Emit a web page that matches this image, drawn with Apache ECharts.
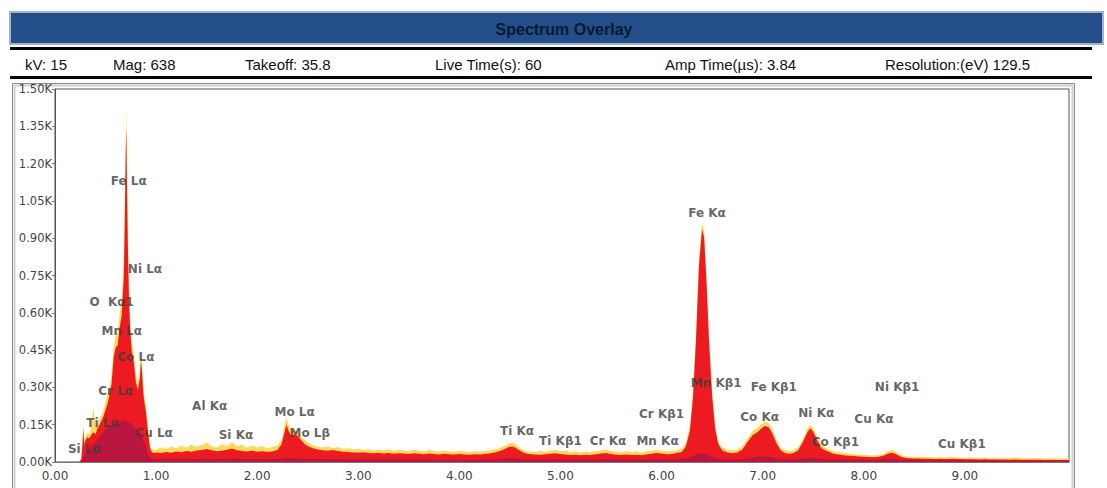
<!DOCTYPE html>
<html>
<head>
<meta charset="utf-8">
<title>Spectrum Overlay</title>
<script src="https://cdn.jsdelivr.net/npm/echarts@6/dist/echarts.min.js"></script>
<style>
  html, body { margin: 0; padding: 0; background: #fff; }
  #chart { width: 1107px; height: 488px; }
</style>
</head>
<body>
<div id="chart"></div>
<script>
// energy axis (keV), shared by the three spectra
const energy = [
  0, 0.24,
  0.26, 0.27, 0.28, 0.29, 0.30, 0.32, 0.34, 0.36, 0.38, 0.40, 0.42, 0.44, 0.46, 0.48, 0.50, 0.52, 0.54, 0.56, 0.58, 0.60,
  0.62, 0.64, 0.66, 0.68, 0.69, 0.70, 0.705, 0.71, 0.72, 0.73, 0.74, 0.76, 0.78, 0.80, 0.82, 0.84, 0.85, 0.86, 0.87, 0.88,
  0.90, 0.92, 0.94, 0.96, 0.98,
  1.00, 1.05, 1.10, 1.15, 1.20, 1.25, 1.30, 1.35, 1.40, 1.45, 1.50, 1.55, 1.60, 1.65, 1.70, 1.75, 1.80, 1.85, 1.90, 1.95,
  2.00, 2.05, 2.10, 2.15, 2.20,
  2.24, 2.27, 2.29, 2.31, 2.34, 2.37, 2.40, 2.44, 2.48, 2.52, 2.56, 2.60,
  2.65, 2.70, 2.75, 2.80, 2.85, 2.90, 2.95, 3.00, 3.05, 3.10, 3.15, 3.20, 3.25, 3.30, 3.35, 3.40, 3.45, 3.50, 3.55, 3.60,
  3.65, 3.70, 3.75, 3.80, 3.85, 3.90, 3.95, 4.00, 4.05, 4.10, 4.15, 4.20, 4.25, 4.30, 4.35,
  4.40, 4.45, 4.49, 4.52, 4.55, 4.59, 4.63, 4.68,
  4.75, 4.80, 4.85, 4.90, 4.95, 5.00, 5.05, 5.10, 5.15, 5.20, 5.25, 5.30, 5.35, 5.40, 5.45, 5.50, 5.55, 5.60, 5.65, 5.70,
  5.75, 5.80, 5.85, 5.90, 5.95, 6.00, 6.05, 6.10, 6.15,
  6.20, 6.24, 6.28, 6.31, 6.34, 6.37, 6.40, 6.42, 6.44, 6.47, 6.50, 6.53, 6.56, 6.60, 6.65, 6.70, 6.75, 6.80, 6.85, 6.90,
  6.94, 6.98, 7.02, 7.06, 7.10, 7.14, 7.18, 7.22, 7.26, 7.30, 7.35, 7.40, 7.44, 7.47, 7.50, 7.54, 7.58, 7.62, 7.66, 7.70,
  7.75, 7.80, 7.85, 7.90, 7.95, 8.00, 8.05, 8.10, 8.15, 8.20, 8.24, 8.28, 8.32, 8.36,
  8.40, 8.45, 8.50, 8.55, 8.60, 8.65, 8.70, 8.75, 8.80, 8.85, 8.90, 8.95, 9.00, 9.05, 9.10, 9.15, 9.20, 9.25, 9.30, 9.35,
  9.40, 9.45, 9.50, 9.55, 9.60, 9.65, 9.70, 9.75, 9.80, 9.85, 9.90, 9.95, 10.00, 10.03
];

// main spectrum (red)
const redCounts = [
  0, 0,
  10, 60, 130, 70, 85, 100, 95, 110, 120, 112, 135, 150, 165, 185, 210, 235, 270, 315, 420, 460,
  470, 540, 590, 740, 950, 1250, 1340, 1180, 880, 690, 560, 440, 400, 320, 290, 340, 405, 370, 300, 250,
  200, 120, 55, 38, 36,
  38, 36, 40, 37, 42, 39, 44, 41, 46, 48, 52, 47, 43, 45, 49, 54, 47, 44, 42, 45,
  41, 43, 40, 42, 48,
  70, 120, 150, 125, 105, 112, 105, 85, 68, 60, 54, 50,
  47, 45, 48, 44, 41, 40, 38, 37, 39, 36, 35, 37, 34, 36, 33, 35, 34, 32, 35, 33,
  31, 34, 32, 30, 33, 31, 30, 32, 30, 29, 31, 30, 32, 34, 38,
  44, 52, 60, 62, 58, 48, 38, 32,
  30, 29, 31, 33, 35, 32, 30, 28, 29, 27, 29, 28, 31, 34, 36, 32, 29, 28, 30, 28,
  29, 27, 30, 33, 36, 34, 31, 32, 36,
  40, 62, 125, 255, 485, 790, 935, 905, 760, 480, 265, 135, 72, 46, 38, 35, 38, 50, 80, 108,
  118, 132, 145, 140, 112, 72, 46, 36, 33, 35, 46, 82, 118, 136, 122, 86, 56, 46, 40, 33,
  30, 27, 25, 24, 22, 21, 20, 19, 21, 26, 34, 37, 31, 22,
  17, 15, 14, 14, 13, 13, 12, 13, 12, 12, 13, 12, 11, 11, 11, 10, 11, 10, 10, 10,
  10, 9, 10, 9, 9, 9, 9, 9, 8, 9, 8, 8, 8, 8
];

// overlay spectrum (yellow, drawn behind)
const yellowCounts = [
  0, 0,
  20, 80, 150, 90, 100, 120, 110, 150, 220, 140, 160, 175, 190, 210, 245, 275, 300, 355, 470, 505,
  520, 600, 660, 820, 1040, 1330, 1420, 1260, 950, 750, 610, 480, 440, 350, 315, 370, 440, 400, 330, 275,
  225, 140, 70, 50, 48,
  50, 58, 52, 62, 55, 66, 57, 70, 60, 68, 78, 62, 58, 72, 64, 80, 62, 70, 56, 66,
  58, 64, 55, 60, 66,
  90, 150, 178, 150, 125, 132, 122, 100, 84, 74, 66, 62,
  58, 62, 56, 60, 52, 55, 50, 54, 48, 52, 46, 50, 47, 52, 44, 49, 46, 43, 50, 45,
  42, 48, 44, 41, 46, 43, 40, 45, 42, 39, 44, 41, 44, 46, 50,
  56, 66, 74, 78, 72, 60, 48, 42,
  40, 44, 41, 45, 48, 43, 46, 39, 43, 38, 42, 40, 44, 47, 50, 44, 42, 39, 44, 40,
  43, 38, 42, 45, 49, 46, 42, 44, 48,
  52, 78, 145, 280, 515, 825, 960, 935, 790, 505, 285, 150, 85, 58, 50, 46, 50, 64, 96, 125,
  136, 150, 162, 158, 128, 86, 58, 48, 44, 46, 58, 96, 134, 150, 138, 100, 68, 58, 50, 42,
  40, 36, 34, 32, 30, 29, 27, 26, 28, 34, 44, 48, 40, 30,
  24, 22, 20, 22, 19, 21, 18, 20, 18, 21, 19, 18, 17, 20, 16, 17, 19, 16, 18, 15,
  17, 16, 18, 15, 16, 14, 17, 15, 16, 14, 15, 14, 15, 14
];

// third spectrum (purple, low counts)
const purpleCounts = [
  0, 0,
  0, 10, 20, 25, 35, 45, 55, 62, 70, 78, 88, 100, 110, 120, 130, 138, 145, 150, 155, 158,
  160, 162, 164, 165, 166, 166, 166, 165, 163, 160, 157, 150, 142, 135, 125, 115, 110, 102, 92, 80,
  60, 35, 18, 12, 12,
  12, 12, 13, 12, 13, 12, 13, 13, 12, 13, 14, 13, 12, 12, 13, 14, 12, 12, 12, 12,
  12, 12, 11, 12, 12,
  13, 16, 18, 16, 15, 15, 14, 13, 12, 12, 12, 12,
  12, 12, 11, 12, 11, 11, 11, 11, 11, 10, 10, 11, 10, 10, 10, 10, 10, 10, 10, 10,
  10, 10, 10, 9, 10, 9, 9, 10, 9, 9, 9, 9, 10, 10, 11,
  12, 14, 16, 16, 15, 13, 11, 10,
  10, 10, 10, 11, 12, 11, 10, 10, 10, 9, 10, 10, 10, 11, 12, 11, 10, 10, 10, 10,
  10, 9, 10, 11, 12, 11, 10, 10, 11,
  11, 13, 18, 24, 30, 34, 36, 35, 32, 26, 20, 15, 12, 11, 10, 10, 11, 12, 15, 18,
  20, 21, 22, 21, 18, 14, 11, 10, 10, 10, 11, 14, 17, 18, 17, 14, 12, 11, 10, 10,
  10, 10, 9, 9, 9, 9, 9, 8, 9, 10, 12, 13, 11, 9,
  8, 8, 8, 8, 7, 7, 7, 7, 7, 7, 7, 7, 7, 7, 7, 7, 7, 7, 7, 7,
  6, 6, 6, 6, 6, 6, 6, 6, 6, 6, 6, 6, 6, 6
];

// element line labels and where they sit (keV, counts)
const peakNames = ['Fe Lα', 'Ni Lα', 'O  Kα1', 'Mn Lα', 'Co Lα', 'Cr Lα', 'Ti Lα', 'Si Lα', 'Cu Lα',
  'Al Kα', 'Si Kα', 'Mo Lα', 'Mo Lβ', 'Ti Kα', 'Ti Kβ1', 'Cr Kα', 'Mn Kα', 'Cr Kβ1', 'Fe Kα',
  'Mn Kβ1', 'Fe Kβ1', 'Co Kα', 'Ni Kα', 'Co Kβ1', 'Ni Kβ1', 'Cu Kα', 'Cu Kβ1'];
const peakEnergy = [0.73, 0.89, 0.56, 0.66, 0.80, 0.60, 0.47, 0.29, 0.98,
  1.53, 1.79, 2.37, 2.52, 4.57, 5.00, 5.47, 5.96, 6.00, 6.45,
  6.54, 7.11, 6.97, 7.53, 7.72, 8.33, 8.10, 8.97];
const peakCounts = [1130, 776, 643, 527, 422, 285, 157, 52, 117,
  225, 109, 201, 117, 125, 84, 84, 84, 193, 1001,
  318, 301, 181, 197, 80, 301, 173, 72];

const headerTitle = 'Spectrum Overlay';
const infoTexts = ['kV: 15', 'Mag: 638', 'Takeoff: 35.8', 'Live Time(s): 60', 'Amp Time(µs): 3.84', 'Resolution:(eV) 129.5'];

// ---- layout ----
const infoLeft = [25, 113, 245, 435, 665, 885];
const pair = arr => energy.map((e, i) => [e, arr[i]]);

const chart = echarts.init(document.getElementById('chart'), null, { renderer: 'svg' });

const graphic = [
  { type: 'rect', z: 0, shape: { x: 10, y: 12, width: 1093, height: 32 },
    style: { fill: '#234e8a', stroke: '#a4b3c8', lineWidth: 2 } },
  { type: 'text', z: 1, x: 564, y: 29,
    style: { text: headerTitle, fontSize: 16, fontWeight: 'bold', fontFamily: 'Liberation Sans',
      fill: '#0a1833', align: 'center', verticalAlign: 'middle', textAlign: 'center', textVerticalAlign: 'middle' } },
  { type: 'rect', z: 0, shape: { x: 10, y: 47, width: 1082, height: 3 }, style: { fill: '#000' } },
  { type: 'rect', z: 0, shape: { x: 10, y: 76, width: 1082, height: 3 }, style: { fill: '#000' } },
  { type: 'rect', z: 0, shape: { x: 12.5, y: 83.5, width: 1062, height: 420 },
    style: { fill: 'none', stroke: '#8c8c8c', lineWidth: 1 } },
  { type: 'rect', z: 0, shape: { x: 14.5, y: 85.5, width: 1058, height: 420 },
    style: { fill: 'none', stroke: '#cfcfcf', lineWidth: 2 } }
];
infoTexts.forEach((t, i) => {
  graphic.push({ type: 'text', z: 1, x: infoLeft[i], y: 64,
    style: { text: t, fontSize: 15, fontFamily: 'Liberation Sans', fill: '#111',
      align: 'left', verticalAlign: 'middle', textAlign: 'left', textVerticalAlign: 'middle' } });
});

const areaSeries = (name, arr, color, opacity) => ({
  name: name,
  type: 'line',
  data: pair(arr),
  showSymbol: false,
  symbol: 'none',
  smooth: false,
  lineStyle: { width: 0 },
  areaStyle: { color: color, opacity: opacity },
  silent: true,
  animation: false
});

chart.setOption({
  animation: false,
  backgroundColor: '#fff',
  graphic: graphic,
  grid: { left: 55, right: 38, top: 89, bottom: 26, show: true, borderColor: '#555', borderWidth: 1, backgroundColor: '#fff' },
  xAxis: {
    type: 'value', min: 0, max: 10.03, interval: 1,
    axisLine: { show: true, lineStyle: { color: '#777' } },
    axisTick: { show: false },
    splitLine: { show: false },
    axisLabel: { color: '#444', fontSize: 12, fontFamily: 'DejaVu Sans', margin: 8,
      formatter: v => v >= 10 ? '' : v.toFixed(2) }
  },
  yAxis: {
    type: 'value', min: 0, max: 1500, interval: 150,
    axisLine: { show: true, lineStyle: { color: '#555' } },
    axisTick: { show: true, length: 3, lineStyle: { color: '#777' } },
    splitLine: { show: false },
    axisLabel: { color: '#444', fontSize: 11.5, fontFamily: 'DejaVu Sans', margin: 3,
      formatter: v => (v / 1000).toFixed(2) + 'K' }
  },
  series: [
    areaSeries('overlay', yellowCounts, '#ffd95c', 1),
    areaSeries('spectrum', redCounts, '#ec1b22', 1),
    areaSeries('background', purpleCounts, '#a3124c', 0.7),
    {
      type: 'scatter',
      symbolSize: 1,
      itemStyle: { color: 'rgba(0,0,0,0)' },
      silent: true,
      animation: false,
      z: 5,
      data: peakNames.map((n, i) => ({ name: n, value: [peakEnergy[i], peakCounts[i]] })),
      label: { show: true, position: 'inside', formatter: p => p.name,
        fontSize: 12, fontWeight: 'bold', fontFamily: 'DejaVu Sans', color: '#3c3c3c' }
    }
  ]
});
</script>
</body>
</html>
